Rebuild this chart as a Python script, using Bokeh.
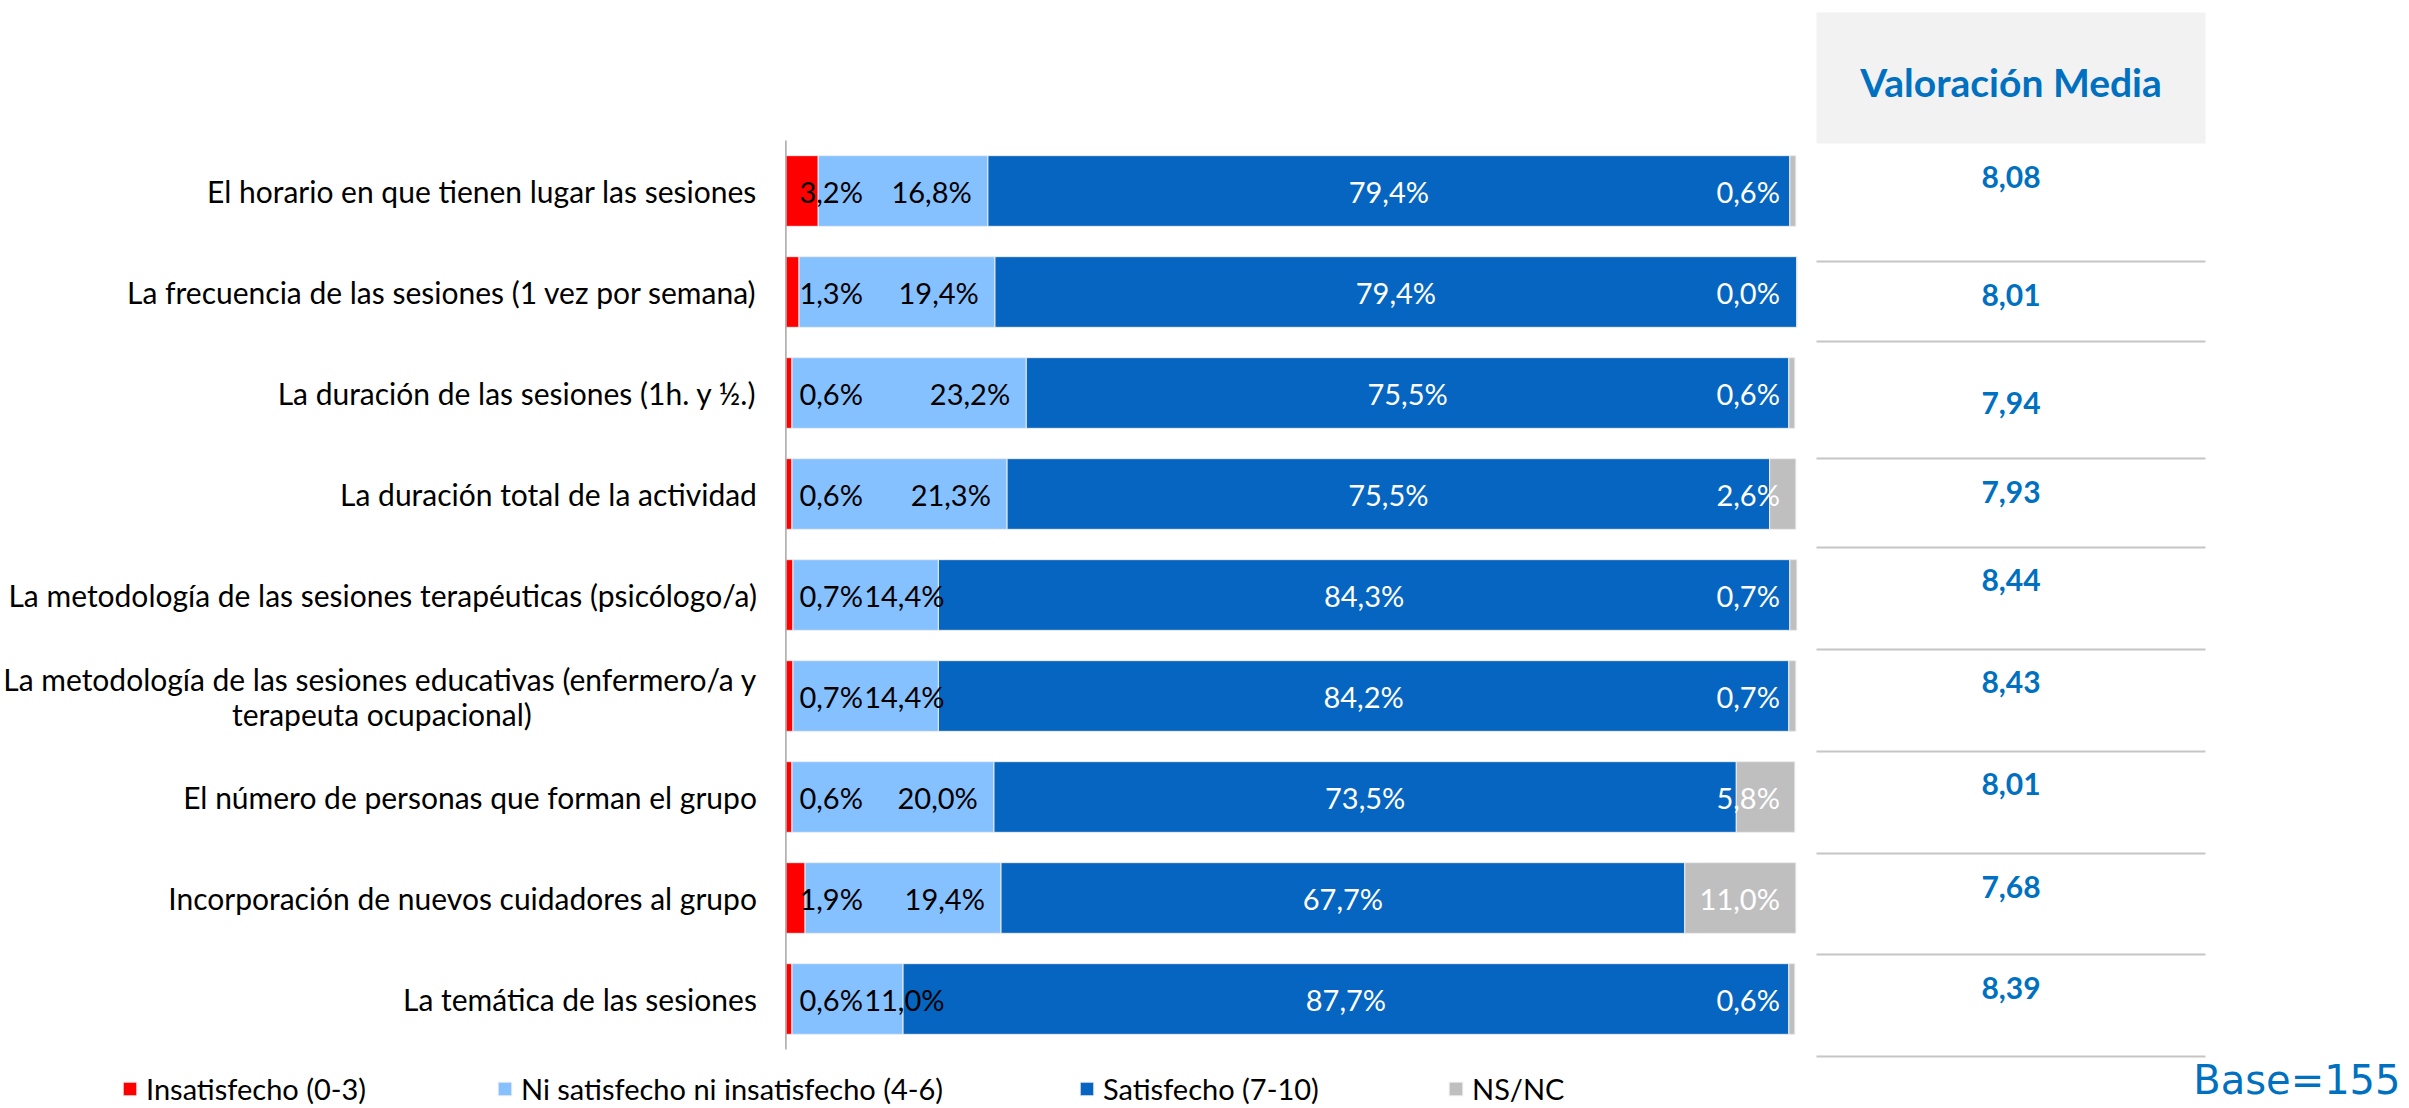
from bokeh.plotting import figure
from bokeh.models import Range1d, Legend, LegendItem, ColumnDataSource
from bokeh.core.properties import value
from bokeh.embed import file_html
from bokeh.resources import INLINE

# ---------------- data ----------------
categories = [
    "El horario en que tienen lugar las sesiones",
    "La frecuencia de las sesiones (1 vez por semana)",
    "La duración de las sesiones (1h. y ½.)",
    "La duración total de la actividad",
    "La metodología de las sesiones terapéuticas (psicólogo/a)",
    "La metodología de las sesiones educativas (enfermero/a y\nterapeuta ocupacional)",
    "El número de personas que forman el grupo",
    "Incorporación de nuevos cuidadores al grupo",
    "La temática de las sesiones",
]
series_names = ["Insatisfecho (0-3)", "Ni satisfecho ni insatisfecho (4-6)",
                "Satisfecho (7-10)", "NS/NC"]
insatisfecho = [3.2, 1.3, 0.6, 0.6, 0.7, 0.7, 0.6, 1.9, 0.6]
ni_ni = [16.8, 19.4, 23.2, 21.3, 14.4, 14.4, 20.0, 19.4, 11.0]
satisfecho = [79.4, 79.4, 75.5, 75.5, 84.3, 84.2, 73.5, 67.7, 87.7]
nsnc = [0.6, 0.0, 0.6, 2.6, 0.7, 0.7, 5.8, 11.0, 0.6]
valoracion_media = [8.08, 8.01, 7.94, 7.93, 8.44, 8.43, 8.01, 7.68, 8.39]
table_title = "Valoración Media"
base_text = "Base=155"

# ---------------- styles / layout ----------------
colors = ["#FF0000", "#85C0FF", "#0565C0", "#BFBFBF"]
BLUE_TXT = "#0070C0"
FONT = "Lato"
FS = "29px"
FS_CAT = "30px"
W, H = 2405, 1106
PX = 10.1          # pixels per percent point
ROW = 101.0        # pixels per category row
X0 = 785.4         # page x of 0 %
Y0 = 190.5         # page y of first row centre


def fx(px):
    return (px - X0) / PX


def fy(py):
    return (py - Y0) / ROW


def pct(v):
    return ("%.1f%%" % v).replace(".", ",")


n = len(categories)
rows = list(range(n))

src = ColumnDataSource(dict(y=rows, insat=insatisfecho, ni=ni_ni,
                            sat=satisfecho, nsnc=nsnc))

p = figure(width=W, height=H, output_backend="svg", toolbar_location=None,
           x_range=Range1d(fx(0), fx(W)), y_range=Range1d(fy(H), fy(0)),
           x_axis_location=None, y_axis_location=None, min_border=0,
           outline_line_color=None, background_fill_color="white",
           border_fill_color="white")
p.grid.visible = False

bars = p.hbar_stack(["insat", "ni", "sat", "nsnc"], y="y", height=0.7,
                    color=colors, line_color="#EDEDED", line_width=1, source=src)

# vertical category axis line
p.segment(x0=[0], y0=[-0.5], x1=[0], y1=[n - 0.5], line_color="#A6A6A6",
          line_width=1.5)

# category labels
single_y, single_t = [], []
for i, c in enumerate(categories):
    if "\n" in c:
        l1, l2 = c.split("\n")
        p.text(x=[0], y=[i - 17.5 / ROW], text=[l1], x_offset=-29,
               text_align="right", text_baseline="middle",
               text_font=value(FONT), text_font_size=FS_CAT, text_color="black")
        p.text(x=[0], y=[i + 17.5 / ROW], text=[l2], x_offset=-404,
               text_align="center", text_baseline="middle",
               text_font=value(FONT), text_font_size=FS_CAT, text_color="black")
    else:
        single_y.append(i)
        single_t.append(c)
p.text(x=[0] * len(single_y), y=single_y, text=single_t, x_offset=-29,
       text_align="right", text_baseline="middle", text_font=value(FONT),
       text_font_size=FS_CAT, text_color="black")

# data labels
cum2 = [a + b for a, b in zip(insatisfecho, ni_ni)]
lbl_common = dict(text_baseline="middle", text_font=value(FONT),
                  text_font_size=FS)
p.text(x=[0] * n, y=rows, text=[pct(v) for v in insatisfecho], x_offset=77,
       text_align="right", text_color="black", **lbl_common)
p.text(x=[max(c - 1.6, 15.7) for c in cum2], y=rows,
       text=[pct(v) for v in ni_ni], text_align="right", text_color="black",
       **lbl_common)
p.text(x=[c + s / 2 for c, s in zip(cum2, satisfecho)], y=rows,
       text=[pct(v) for v in satisfecho], text_align="center",
       text_color="white", **lbl_common)
p.text(x=[100] * n, y=rows, text=[pct(v) for v in nsnc], x_offset=-16,
       text_align="right", text_color="white", **lbl_common)

# ---------------- table "Valoración Media" ----------------
TL, TR = fx(1816), fx(2205)
p.quad(left=[TL], right=[TR], top=[fy(12)], bottom=[fy(143)],
       fill_color="#F2F2F2", line_color=None)
p.text(x=[(TL + TR) / 2], y=[fy(81)], text=[table_title], text_align="center",
       text_baseline="middle", text_font=value(FONT), text_font_style="bold",
       text_font_size="39px", text_color=BLUE_TXT)
sep_px = [261, 341, 458, 547, 649, 751, 853, 954, 1056]
val_px = [176, 294, 402, 491, 579, 681, 783, 886, 987]
p.segment(x0=[TL] * len(sep_px), x1=[TR] * len(sep_px),
          y0=[fy(v) for v in sep_px], y1=[fy(v) for v in sep_px],
          line_color="#C6C6C6", line_width=2)
p.text(x=[(TL + TR) / 2] * n, y=[fy(v) for v in val_px],
       text=[("%.2f" % v).replace(".", ",") for v in valoracion_media],
       text_align="center", text_baseline="middle", text_font=value(FONT),
       text_font_style="bold", text_font_size="30px", text_color=BLUE_TXT)

# Base text
p.text(x=[fx(2400)], y=[fy(1102)], text=[base_text], text_align="right",
       text_baseline="bottom", text_font=value("DejaVu Sans"),
       text_font_size="40px", text_color=BLUE_TXT)

# ---------------- legend (one entry per position) ----------------
leg_x = [121, 496, 1078, 1447]
for name, r, lx in zip(series_names, bars, leg_x):
    lg = Legend(items=[LegendItem(label=name, renderers=[r])],
                location=(lx, 0), orientation="horizontal",
                glyph_width=17, glyph_height=17, label_standoff=8,
                padding=0, margin=0, border_line_color=None,
                background_fill_alpha=0, label_text_font=FONT,
                label_text_font_size=FS, label_text_color="black")
    p.add_layout(lg)

open("out.html", "w").write(file_html(p, INLINE))
